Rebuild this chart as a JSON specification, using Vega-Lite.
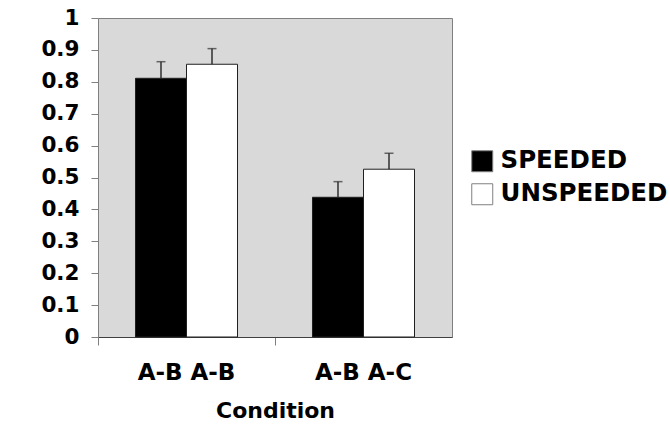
{
  "$schema": "https://vega.github.io/schema/vega-lite/v6.json",
  "width": 354,
  "height": 319,
  "autosize": "none",
  "padding": {"left": 98, "top": 18, "right": 218, "bottom": 93},
  "background": "white",
  "config": {
    "view": {"fill": "#d9d9d9", "stroke": "#808080", "strokeWidth": 1},
    "font": "DejaVu Sans",
    "axisY": {
      "title": null,
      "format": ".1~f",
      "grid": false,
      "labelOverlap": false,
      "labelBound": false,
      "labelFontSize": 21.5,
      "labelFontWeight": "bold",
      "labelColor": "black",
      "labelPadding": 12,
      "tickSize": 7,
      "tickColor": "#808080",
      "domainColor": "#808080"
    }
  },
  "data": {
    "values": [
      {"condition": "A-B A-B", "group": "SPEEDED", "value": 0.811, "upper": 0.863},
      {"condition": "A-B A-B", "group": "UNSPEEDED", "value": 0.855, "upper": 0.904},
      {"condition": "A-B A-C", "group": "SPEEDED", "value": 0.438, "upper": 0.487},
      {"condition": "A-B A-C", "group": "UNSPEEDED", "value": 0.526, "upper": 0.576}
    ]
  },
  "encoding": {
    "x": {
      "field": "condition",
      "type": "nominal",
      "scale": {"paddingInner": 0, "paddingOuter": 0},
      "axis": {
        "title": "Condition",
        "titleFontSize": 22,
        "titleFontWeight": "bold",
        "titleColor": "black",
        "titlePadding": 16,
        "labelFontSize": 23,
        "labelFontWeight": "bold",
        "labelColor": "black",
        "labelAngle": 0,
        "labelPadding": 16,
        "bandPosition": 0,
        "tickSize": 8,
        "tickColor": "#808080",
        "domainColor": "#404040"
      }
    },
    "xOffset": {
      "field": "group",
      "type": "nominal",
      "scale": {"domain": ["SPEEDED", "UNSPEEDED"], "paddingInner": 0, "paddingOuter": 0.735}
    }
  },
  "layer": [
    {
      "mark": {"type": "bar", "stroke": "#202020", "strokeWidth": 1},
      "encoding": {
        "y": {
          "field": "value",
          "type": "quantitative",
          "scale": {"domain": [0, 1], "nice": false},
          "axis": {"title": null, "values": [0, 0.1, 0.2, 0.3, 0.4, 0.5, 0.6, 0.7, 0.8, 0.9, 1]}
        },
        "color": {
          "field": "group",
          "type": "nominal",
          "scale": {"domain": ["SPEEDED", "UNSPEEDED"], "range": ["black", "white"]},
          "legend": {
            "title": null,
            "orient": "none",
            "legendX": 372,
            "legendY": 131,
            "symbolType": "square",
            "symbolSize": 440,
            "symbolStrokeColor": "#808080",
            "symbolStrokeWidth": 1,
            "labelFontSize": 24.5,
            "labelFontWeight": "bold",
            "labelColor": "black",
            "labelLimit": 400,
            "labelOffset": 6,
            "rowPadding": 7
          }
        }
      }
    },
    {
      "mark": {"type": "rule", "color": "#303030", "strokeWidth": 1.5},
      "encoding": {
        "y": {"field": "value", "type": "quantitative", "axis": {"title": null, "values": [0, 0.1, 0.2, 0.3, 0.4, 0.5, 0.6, 0.7, 0.8, 0.9, 1]}},
        "y2": {"field": "upper"}
      }
    },
    {
      "mark": {"type": "tick", "color": "#303030", "size": 9, "thickness": 1.5},
      "encoding": {
        "y": {"field": "upper", "type": "quantitative", "axis": {"title": null, "values": [0, 0.1, 0.2, 0.3, 0.4, 0.5, 0.6, 0.7, 0.8, 0.9, 1]}}
      }
    }
  ]
}
